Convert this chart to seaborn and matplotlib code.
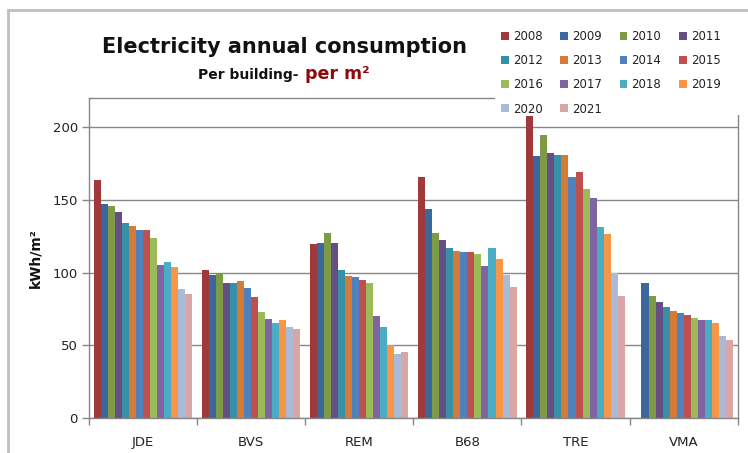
import numpy as np
import pandas as pd
import matplotlib
matplotlib.use("Agg")
import matplotlib.pyplot as plt
from matplotlib.patches import Rectangle
import seaborn as sns

buildings = ["JDE", "BVS", "REM", "B68", "TRE", "VMA"]
years = [str(y) for y in range(2008, 2022)]

jde = [164, 147.5, 145.5, 142, 134, 132, 129.5, 129, 123.5, 105.5, 107, 104, 88.5, 85.5]
bvs = [102, 98, 99, 92.5, 92.5, 94, 89.5, 83, 72.5, 68, 65.5, 67, 62.5, 61]
rem = [119.5, 120.5, 127, 120, 101.5, 97.5, 97, 95, 92.5, 70, 62.5, 50, 44, 45]
b68 = [166, 144, 127.5, 122.5, 117, 115, 114, 114, 113, 104.5, 117, 109.5, 98.5, 90]
tre = [208, 180.5, 194.5, 182, 181, 181, 165.5, 169, 157.5, 151, 131.5, 126.5, 100, 84]
vma = [np.nan, 92.5, 84, 80, 76.5, 73.5, 72, 71, 68.5, 67.5, 67.5, 65.5, 56.5, 53.5]

colors = ["#A0393A", "#3B679C", "#7F9A47", "#654E84", "#3690A8", "#D57B35",
          "#4F81BD", "#C0504D", "#9BBB59", "#8064A2", "#4BACC6", "#F79646",
          "#A9BBD9", "#D9A6A6"]

rows = []
for b, vals in zip(buildings, [jde, bvs, rem, b68, tre, vma]):
    for y, v in zip(years, vals):
        rows.append({"building": b, "year": y, "value": v})
df = pd.DataFrame(rows)

sns.set_theme(style="white")
plt.rcParams["font.family"] = ["DejaVu Sans"]

W, H = 748, 453
fig = plt.figure(figsize=(W / 100, H / 100), dpi=100)
ax = fig.add_axes([89 / W, 1 - 417.7 / H, (737.7 - 89) / W, (417.7 - 98.3) / H])

sns.barplot(data=df, x="building", y="value", hue="year", hue_order=years,
            order=buildings, palette=colors, saturation=1, width=0.91,
            gap=0, errorbar=None, ax=ax, legend=True, linewidth=0,
            edgecolor="none")

ax.set_ylim(0, 220)
ax.set_xlim(-0.5, 5.5)
ax.set_yticks([0, 50, 100, 150, 200])
ax.yaxis.grid(True, color="#868686", linewidth=1.0)
ax.set_axisbelow(True)
for s in ax.spines.values():
    s.set_visible(True)
    s.set_color("#868686")
    s.set_linewidth(1.0)

ax.set_xticks(range(6))
ax.set_xticklabels(buildings, fontsize=9.5, color="#222222")
ax.set_xticks(np.arange(-0.5, 6, 1), minor=True)
ax.tick_params(axis="x", which="major", bottom=True, length=0, pad=13)
ax.tick_params(axis="x", which="minor", bottom=True, length=5, width=1,
               color="#868686", direction="out")
ax.tick_params(axis="y", left=True, length=5, width=1, color="#868686",
               direction="out", labelsize=9.5, labelcolor="#222222", pad=3)
ax.set_xlabel("")
ax.set_ylabel("kWh/m²", fontsize=10, fontweight="bold", color="#111111", labelpad=7)

handles, labels = ax.get_legend_handles_labels()
ax.get_legend().remove()
order = [0, 4, 8, 12, 1, 5, 9, 13, 2, 6, 10, 3, 7, 11]
leg = fig.legend([handles[i] for i in order], [labels[i] for i in order],
                 ncol=4, loc="upper left", bbox_to_anchor=(495 / W, 1 - 24 / H),
                 frameon=False, fontsize=8.5, handlelength=0.65, handleheight=0.65,
                 handletextpad=0.35, columnspacing=1.5, labelspacing=0.95,
                 borderpad=0.5, borderaxespad=0)
for t in leg.get_texts():
    t.set_color("#222222")

# white legend area covering the top-right of the plot area
fig.add_artist(Rectangle((495 / W, 1 - 115 / H), (W - 495) / W, (115 - 20) / H,
                         transform=fig.transFigure, facecolor="white",
                         edgecolor="none", zorder=2))

fig.text(285 / W, 1 - 47 / H, "Electricity annual consumption", ha="center",
         va="center", fontsize=15, fontweight="bold", color="#111111")
fig.text(303 / W, 1 - 75 / H, "Per building- ", ha="right", va="center",
         fontsize=10, fontweight="bold", color="#111111")
fig.text(305 / W, 1 - 74 / H, "per m²", ha="left", va="center",
         fontsize=12.5, fontweight="bold", color="#8B0A0A")

fig.add_artist(Rectangle((8 / W, -0.1), 1.2, 1 - 10 / H + 0.1,
                         transform=fig.transFigure, fill=False,
                         edgecolor="#BFBFBF", linewidth=2, zorder=0))

fig.savefig("out.png", dpi=100, facecolor="white")
